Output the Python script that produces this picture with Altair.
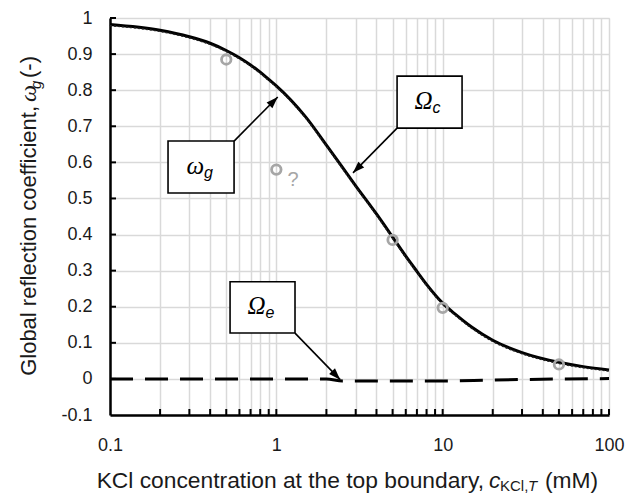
import altair as alt
import pandas as pd

# ---- data ----
conc = [0.1, 0.2, 0.3, 0.4, 0.5, 0.6, 0.7, 0.8, 0.9, 1, 1.5, 2, 3, 4, 5, 6, 7, 8,
        10, 12, 15, 20, 30, 50, 70, 100]
omega_g = [0.982, 0.966, 0.948, 0.930, 0.910, 0.890, 0.870, 0.850, 0.830, 0.812,
           0.726, 0.648, 0.535, 0.457, 0.393, 0.340, 0.298, 0.262,
           0.210, 0.178, 0.143, 0.107, 0.073, 0.046, 0.034, 0.025]

conc_e = [0.1, 2.0, 2.5, 10, 20, 100]
omega_e = [0.0, 0.0, -0.006, -0.006, -0.003, 0.001]

pts_c = [0.5, 1, 5, 10, 50]
pts_v = [0.885, 0.58, 0.385, 0.197, 0.04]

x_grid = [0.1, 0.2, 0.3, 0.4, 0.5, 0.6, 0.7, 0.8, 0.9, 1, 2, 3, 4, 5, 6, 7, 8, 9,
          10, 20, 30, 40, 50, 60, 70, 80, 90, 100]
y_grid = [-0.1, 0, 0.1, 0.2, 0.3, 0.4, 0.5, 0.6, 0.7, 0.8, 0.9, 1]

# annotation boxes (data coordinates)
boxes = [
    {"main": "ω", "sub": "g", "x": 0.2233, "x2": 0.557, "y": 0.659, "y2": 0.515},
    {"main": "Ω", "sub": "c", "x": 5.32, "x2": 13.08, "y": 0.839, "y2": 0.695},
    {"main": "Ω", "sub": "e", "x": 0.527, "x2": 1.295, "y": 0.269, "y2": 0.127},
]
arrows = [
    {"x": 0.557, "y": 0.659, "x2": 1.02, "y2": 0.781, "angle": 45},
    {"x": 5.32, "y": 0.695, "x2": 2.89, "y2": 0.571, "angle": 225},
    {"x": 1.295, "y": 0.127, "x2": 2.42, "y2": -0.002, "angle": 136},
]

W, H = 499, 397
xs = alt.Scale(type="log", domain=[0.1, 100], nice=False)
ys = alt.Scale(domain=[-0.1, 1], nice=False, zero=False)

curve_df = pd.DataFrame({"c": conc, "v": omega_g})
e_df = pd.DataFrame({"c": conc_e, "v": omega_e})
pts_df = pd.DataFrame({"c": pts_c, "v": pts_v})

FONT = "Liberation Sans"
lab_col = "#1a1a1a"

X_AXIS = alt.Axis(values=x_grid, title=None, grid=True, gridColor="#d9d9d9",
                  gridWidth=1.5, domainColor="black", domainWidth=2.5,
                  ticks=False, labelFont=FONT, labelFontSize=18,
                  labelColor=lab_col, labelPadding=21,
                  labelExpr="indexof(['0.1','1','10','100'], datum.label) >= 0 ? datum.label : ''",
                  labelFlush=False, labelOverlap=False)
Y_AXIS = alt.Axis(values=y_grid, title=None, grid=True, gridColor="#d9d9d9",
                  gridWidth=1.5, domainColor="black", domainWidth=2.5,
                  ticks=False, labelFont=FONT, labelFontSize=18,
                  labelColor=lab_col, labelPadding=18,
                  labelExpr="replace(format(datum.value, '.1~f'), '\u2212', '-')",
                  labelFlush=False, labelOverlap=False)


def X(field):
    return alt.X(field, scale=xs, axis=X_AXIS)


def Y(field):
    return alt.Y(field, scale=ys, axis=Y_AXIS)


# inward ticks
xt_df = pd.DataFrame({"c": x_grid[1:]})
xticks = alt.Chart(xt_df).mark_rule(color="black", strokeWidth=2).encode(
    x=X("c:Q"), y=alt.value(H), y2=alt.value(H - 6))
yt_df = pd.DataFrame({"v": y_grid[1:]})
yticks = alt.Chart(yt_df).mark_rule(color="black", strokeWidth=2).encode(
    y=Y("v:Q"), x=alt.value(0), x2=alt.value(6))

curve = alt.Chart(curve_df).mark_line(color="black", strokeWidth=3,
                                      interpolate="monotone").encode(
    x=X("c:Q"), y=Y("v:Q"))
curve_dot = alt.Chart(curve_df).mark_line(color="#222222", strokeWidth=1.4,
                                          strokeDash=[2, 2], interpolate="monotone").encode(
    x=X("c:Q"), y=Y("v:Q"), yOffset=alt.value(1.2))
ecurve = alt.Chart(e_df).mark_line(color="black", strokeWidth=3, strokeDash=[23, 12],
                                   interpolate="monotone").encode(
    x=X("c:Q"), y=Y("v:Q"))

points = alt.Chart(pts_df).mark_point(filled=False, color="#a6a6a6", strokeWidth=2.8,
                                      size=90, opacity=1).encode(
    x=X("c:Q"), y=Y("v:Q"))

qmark = alt.Chart(pd.DataFrame({"c": [1.26], "v": [0.551]})).mark_text(
    text="?", font=FONT, fontSize=20, color="#a6a6a6", baseline="middle").encode(
    x=X("c:Q"), y=Y("v:Q"))

box_df = pd.DataFrame(boxes)
box_df["cx"] = (box_df["x"] * box_df["x2"]) ** 0.5
box_df["cy"] = (box_df["y"] + box_df["y2"]) / 2
shadow = alt.Chart(box_df).mark_rect(fill="#000000", opacity=0.18, xOffset=2.5,
                                     yOffset=2.5).encode(
    x=X("x:Q"), x2="x2:Q", y=Y("y:Q"), y2="y2:Q")
rects = alt.Chart(box_df).mark_rect(fill="white", stroke="black", strokeWidth=1.6).encode(
    x=X("x:Q"), x2="x2:Q", y=Y("y:Q"), y2="y2:Q")
main_txt = alt.Chart(box_df).mark_text(font="Liberation Serif", fontStyle="italic",
                                       fontSize=25, align="right", baseline="middle",
                                       dx=3, dy=-1, color="black").encode(
    x=X("cx:Q"), y=Y("cy:Q"), text="main:N")
sub_txt = alt.Chart(box_df).mark_text(font=FONT, fontStyle="italic",
                                      fontSize=16, align="left", baseline="middle",
                                      dx=3, dy=6, color="black").encode(
    x=X("cx:Q"), y=Y("cy:Q"), text="sub:N")

arr_df = pd.DataFrame(arrows)
arr_lines = alt.Chart(arr_df).mark_rule(color="black", strokeWidth=1.6).encode(
    x=X("x:Q"), x2="x2:Q", y=Y("y:Q"), y2="y2:Q")
arr_heads = alt.Chart(arr_df).mark_point(shape="M0,0L-0.42,1.2L0.42,1.2Z", filled=True,
                                         color="black", size=380, opacity=1).encode(
    x=X("x2:Q"), y=Y("y2:Q"),
    angle=alt.Angle("angle:Q", scale=None))

one = pd.DataFrame({"a": [0]})


def txt(s, x, y, size=22, style="normal", align="left", angle=0, font=FONT):
    kw = dict(text=s, font=font, fontSize=size, fontStyle=style, align=align,
              baseline="alphabetic", color=lab_col)
    if angle:
        kw["angle"] = angle
    return alt.Chart(one).mark_text(**kw).encode(x=alt.value(x), y=alt.value(y))


# x title pieces (plot-area coordinates)
xt1 = txt("KCl concentration at the top boundary,", 374, 470, size=22.8, align="right")
xt2 = txt("c", 379, 470, size=22.8, style="italic")
xt3 = txt("KCl,", 390, 473, size=15)
xt4 = txt("T", 418, 473, size=15, style="italic")
xt5 = txt("(mM)", 435, 470, size=22.8)

# y title pieces (rotated)
yt1 = txt("Global reflection coefficient,", -74, 88, align="right", angle=270)
yt2 = txt("ω", -74, 84, style="italic", angle=270, font="Liberation Serif", size=24)
yt3 = txt("g", -69, 71, style="italic", angle=270, size=15)
yt4 = txt("(-)", -74, 60, angle=270)

chart = alt.layer(
    xticks, yticks, ecurve, curve, curve_dot, points, qmark,
    arr_lines, arr_heads, shadow, rects, main_txt, sub_txt,
    xt1, xt2, xt3, xt4, xt5, yt1, yt2, yt3, yt4,
).properties(
    width=W, height=H, autosize="none",
    padding={"left": 102, "top": 10, "right": 21, "bottom": 80},
).configure_view(stroke=None).configure(background="white")

chart.save("out.html", embed_options={"renderer": "svg", "actions": False})
